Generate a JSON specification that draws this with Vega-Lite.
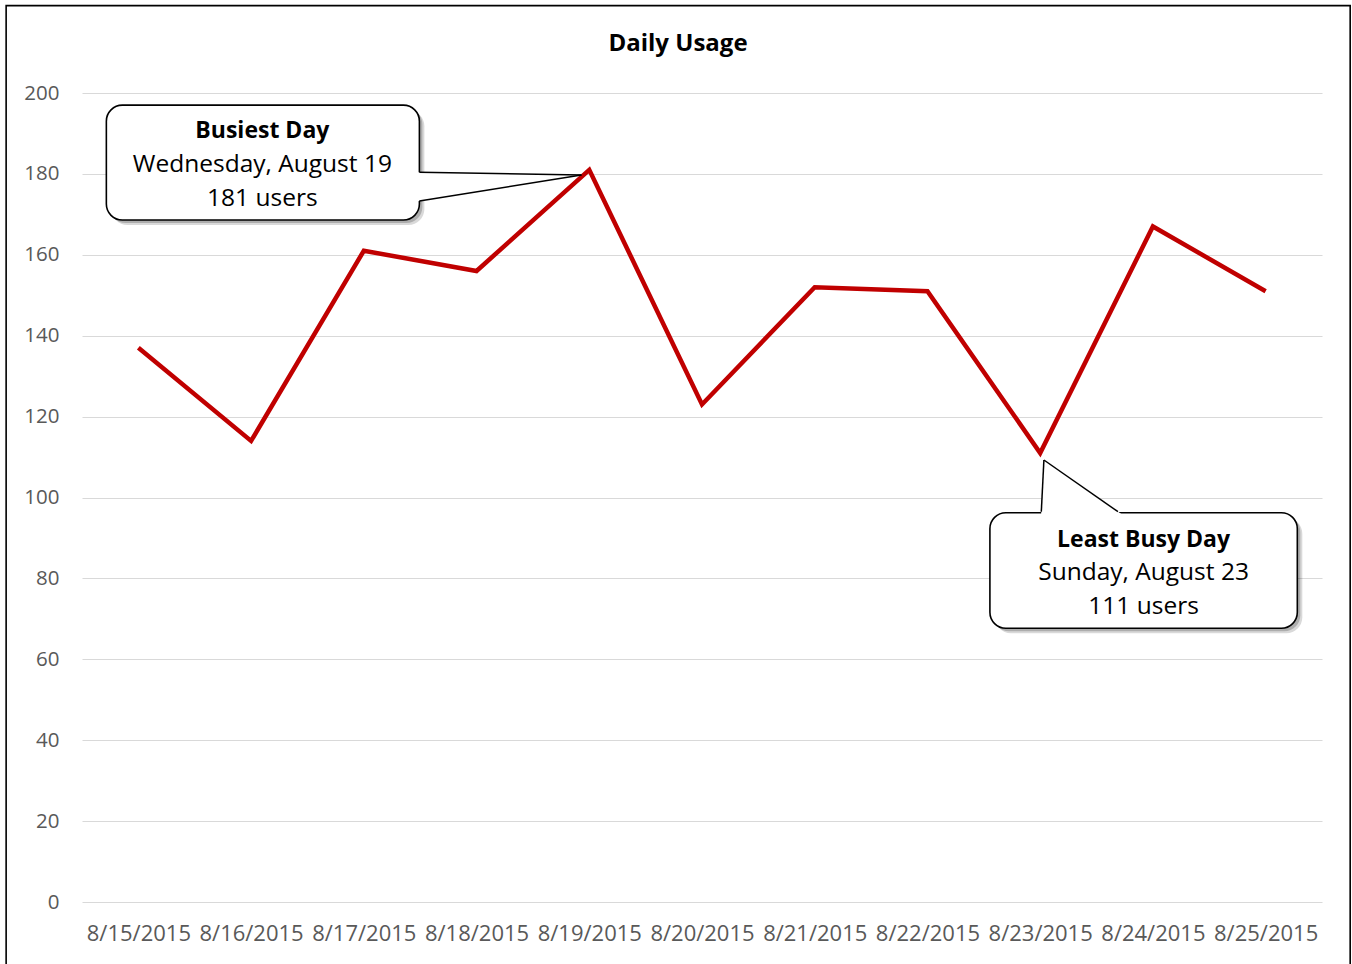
{
  "$schema": "https://vega.github.io/schema/vega-lite/v6.json",
  "width": 1240,
  "height": 809,
  "autosize": {"type": "none"},
  "padding": {"left": 82, "top": 93, "right": 30, "bottom": 62},
  "background": "white",
  "config": {"view": {"stroke": null}, "font": "Open Sans"},
  "title": {"text": "Daily Usage", "font": "Open Sans", "fontSize": 24, "fontWeight": "bold", "color": "#000000", "anchor": "middle", "dx": -24, "baseline": "alphabetic", "offset": -70},
  "datasets": {
    "usage": [
      {"day": 0, "date": "8/15/2015", "users": 137},
      {"day": 1, "date": "8/16/2015", "users": 114},
      {"day": 2, "date": "8/17/2015", "users": 161},
      {"day": 3, "date": "8/18/2015", "users": 156},
      {"day": 4, "date": "8/19/2015", "users": 181},
      {"day": 5, "date": "8/20/2015", "users": 123},
      {"day": 6, "date": "8/21/2015", "users": 152},
      {"day": 7, "date": "8/22/2015", "users": 151},
      {"day": 8, "date": "8/23/2015", "users": 111},
      {"day": 9, "date": "8/24/2015", "users": 167},
      {"day": 10, "date": "8/25/2015", "users": 151}
    ],
    "frame": [{"x": -1.173, "x2": 10.75, "y": 221.6, "y2": -25}],
    "boxes": [
      {"name": "busiest", "x": -0.284, "x2": 2.493, "y": 197.0, "y2": 168.6},
      {"name": "least", "x": 7.554, "x2": 10.281, "y": 96.24, "y2": 67.66}
    ],
    "wedge1": [
      {"x": 2.46, "top": 180.42, "bottom": 173.15},
      {"x": 3.931, "top": 179.7, "bottom": 179.7}
    ],
    "wedge2": [
      {"y": 95.6, "left": 8.008, "right": 8.736},
      {"y": 109.27, "left": 8.033, "right": 8.033}
    ],
    "edges": [
      {"x": 2.493, "y": 180.4, "x2": 3.931, "y2": 179.7},
      {"x": 2.493, "y": 173.3, "x2": 3.931, "y2": 179.7},
      {"x": 8.010, "y": 96.49, "x2": 8.033, "y2": 109.27},
      {"x": 8.690, "y": 96.49, "x2": 8.033, "y2": 109.27}
    ],
    "notes": [
      {"line": 1, "text": "Busiest Day", "x": 1.10, "y": 190.6},
      {"line": 2, "text": "Wednesday, August 19", "x": 1.10, "y": 182.2},
      {"line": 3, "text": "181 users", "x": 1.10, "y": 173.8},
      {"line": 1, "text": "Least Busy Day", "x": 8.917, "y": 89.5},
      {"line": 2, "text": "Sunday, August 23", "x": 8.917, "y": 81.3},
      {"line": 3, "text": "111 users", "x": 8.917, "y": 72.9}
    ]
  },
  "layer": [
    {
      "data": {"name": "usage"},
      "mark": {"type": "line", "color": "#C00000", "strokeWidth": 4.5, "strokeJoin": "miter"},
      "encoding": {
        "x": {"field": "day", "type": "quantitative", "scale": {"domain": [-0.5, 10.5], "nice": false, "zero": false},
          "axis": {"values": [0,1,2,3,4,5,6,7,8,9,10], "labelExpr": "['8/15/2015','8/16/2015','8/17/2015','8/18/2015','8/19/2015','8/20/2015','8/21/2015','8/22/2015','8/23/2015','8/24/2015','8/25/2015'][datum.value]", "grid": false, "domain": false, "ticks": false, "labelPadding": 21, "labelFontSize": 22, "labelColor": "#595959", "labelFont": "Open Sans", "title": null}},
        "y": {"field": "users", "type": "quantitative", "scale": {"domain": [0, 200], "nice": false},
          "axis": {"values": [0,20,40,60,80,100,120,140,160,180,200], "grid": true, "gridColor": "#D9D9D9", "gridWidth": 1.2, "domain": false, "ticks": false, "labelPadding": 23, "labelFontSize": 20.5, "labelColor": "#595959", "labelFont": "Open Sans", "title": null}}
      }
    },
    {
      "data": {"name": "frame"},
      "mark": {"type": "rect", "fill": null, "fillOpacity": 0, "stroke": "#000000", "strokeWidth": 1.6},
      "encoding": {
        "x": {"field": "x", "type": "quantitative", "scale": {"domain": [-0.5, 10.5], "nice": false, "zero": false}},
        "x2": {"field": "x2"},
        "y": {"field": "y", "type": "quantitative", "scale": {"domain": [0, 200], "nice": false}},
        "y2": {"field": "y2"}
      }
    },
    {
      "data": {"name": "boxes"},
      "mark": {"type": "rect", "fill": "#000000", "opacity": 0.15, "cornerRadius": 16, "xOffset": 5, "yOffset": 5, "x2Offset": 5, "y2Offset": 5},
      "encoding": {
        "x": {"field": "x", "type": "quantitative", "scale": {"domain": [-0.5, 10.5], "nice": false, "zero": false}},
        "x2": {"field": "x2"},
        "y": {"field": "y", "type": "quantitative", "scale": {"domain": [0, 200], "nice": false}},
        "y2": {"field": "y2"}
      }
    },
    {
      "data": {"name": "boxes"},
      "mark": {"type": "rect", "fill": "#000000", "opacity": 0.2, "cornerRadius": 16, "xOffset": 3, "yOffset": 3, "x2Offset": 3, "y2Offset": 3},
      "encoding": {
        "x": {"field": "x", "type": "quantitative", "scale": {"domain": [-0.5, 10.5], "nice": false, "zero": false}},
        "x2": {"field": "x2"},
        "y": {"field": "y", "type": "quantitative", "scale": {"domain": [0, 200], "nice": false}},
        "y2": {"field": "y2"}
      }
    },
    {
      "data": {"name": "boxes"},
      "mark": {"type": "rect", "fill": "#FFFFFF", "stroke": "#000000", "strokeWidth": 1.6, "cornerRadius": 16},
      "encoding": {
        "x": {"field": "x", "type": "quantitative", "scale": {"domain": [-0.5, 10.5], "nice": false, "zero": false}},
        "x2": {"field": "x2"},
        "y": {"field": "y", "type": "quantitative", "scale": {"domain": [0, 200], "nice": false}},
        "y2": {"field": "y2"}
      }
    },
    {
      "data": {"name": "wedge1"},
      "mark": {"type": "area", "fill": "#FFFFFF", "opacity": 1},
      "encoding": {
        "x": {"field": "x", "type": "quantitative", "scale": {"domain": [-0.5, 10.5], "nice": false, "zero": false}},
        "y": {"field": "top", "type": "quantitative", "scale": {"domain": [0, 200], "nice": false}},
        "y2": {"field": "bottom"}
      }
    },
    {
      "data": {"name": "wedge2"},
      "mark": {"type": "area", "fill": "#FFFFFF", "opacity": 1, "orient": "horizontal"},
      "encoding": {
        "y": {"field": "y", "type": "quantitative", "scale": {"domain": [0, 200], "nice": false}},
        "x": {"field": "left", "type": "quantitative", "scale": {"domain": [-0.5, 10.5], "nice": false, "zero": false}},
        "x2": {"field": "right"}
      }
    },
    {
      "data": {"name": "edges"},
      "mark": {"type": "rule", "color": "#000000", "strokeWidth": 1.5},
      "encoding": {
        "x": {"field": "x", "type": "quantitative", "scale": {"domain": [-0.5, 10.5], "nice": false, "zero": false}},
        "x2": {"field": "x2"},
        "y": {"field": "y", "type": "quantitative", "scale": {"domain": [0, 200], "nice": false}},
        "y2": {"field": "y2"}
      }
    },
    {
      "data": {"name": "notes"},
      "transform": [{"filter": "datum.line == 1"}],
      "mark": {"type": "text", "font": "Open Sans", "fontSize": 23, "fontWeight": "bold", "color": "#000000", "align": "center", "baseline": "middle"},
      "encoding": {
        "x": {"field": "x", "type": "quantitative", "scale": {"domain": [-0.5, 10.5], "nice": false, "zero": false}},
        "y": {"field": "y", "type": "quantitative", "scale": {"domain": [0, 200], "nice": false}},
        "text": {"field": "text"}
      }
    },
    {
      "data": {"name": "notes"},
      "transform": [{"filter": "datum.line != 1"}],
      "mark": {"type": "text", "font": "Open Sans", "fontSize": 24.5, "color": "#000000", "align": "center", "baseline": "middle"},
      "encoding": {
        "x": {"field": "x", "type": "quantitative", "scale": {"domain": [-0.5, 10.5], "nice": false, "zero": false}},
        "y": {"field": "y", "type": "quantitative", "scale": {"domain": [0, 200], "nice": false}},
        "text": {"field": "text"}
      }
    }
  ]
}
